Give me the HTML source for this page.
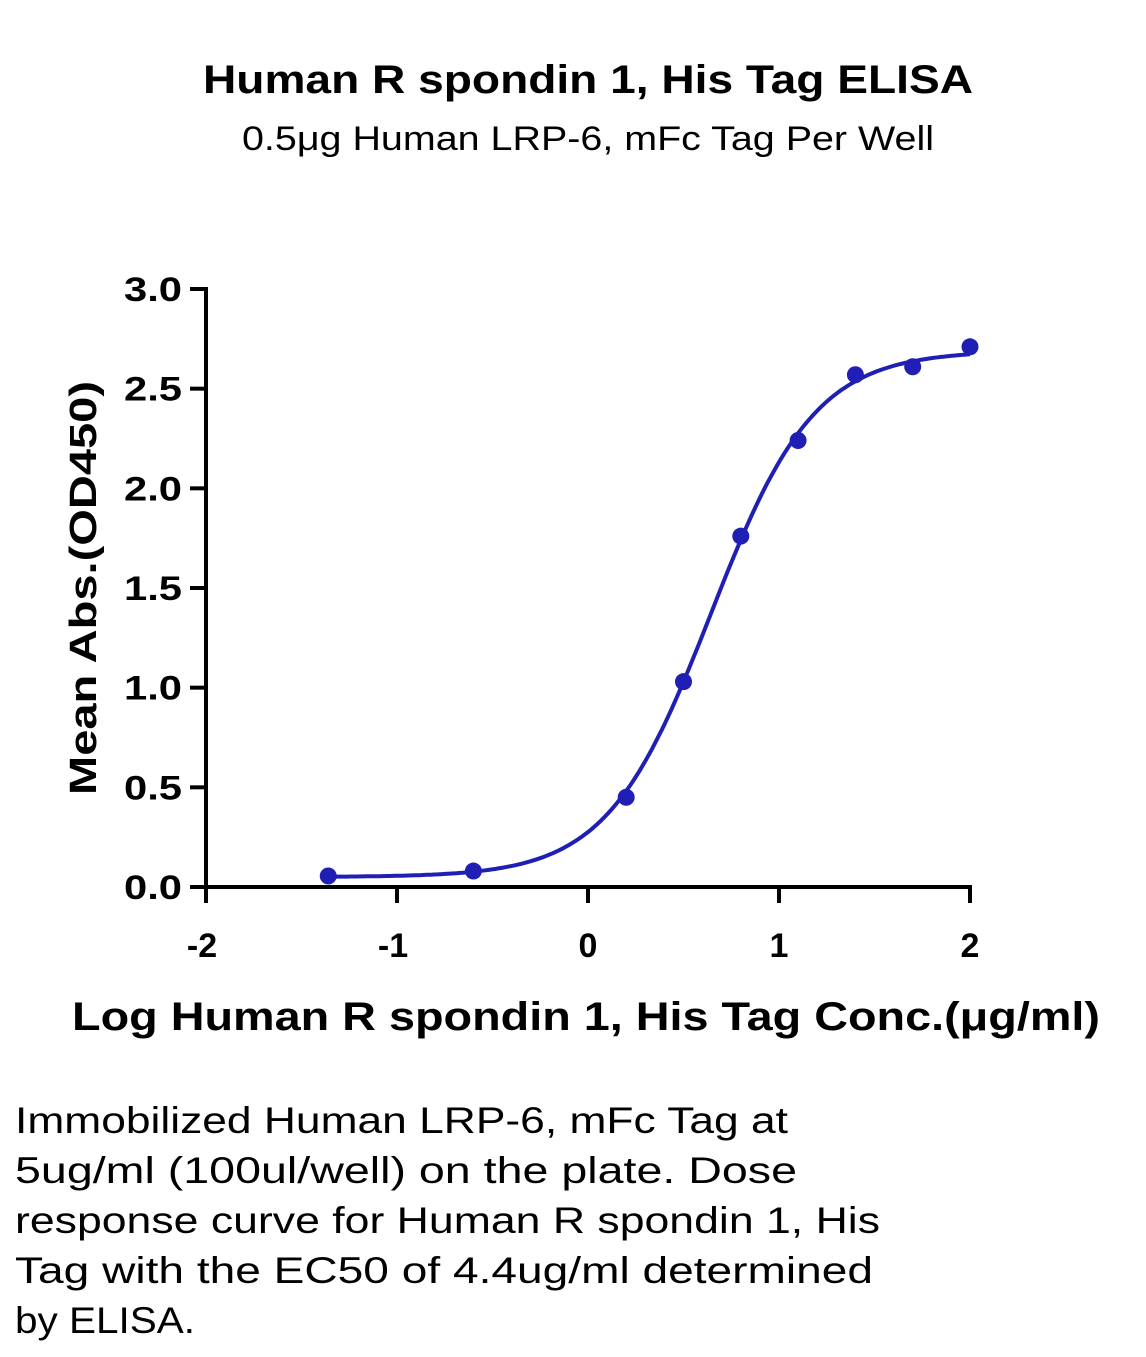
<!DOCTYPE html>
<html><head><meta charset="utf-8"><style>
html,body{margin:0;padding:0;background:#fff;}
svg{display:block;font-family:"Liberation Sans",sans-serif;}
</style></head><body>
<svg width="1146" height="1357" viewBox="0 0 1146 1357" id="chart">
<text x="588" y="93" text-anchor="middle" font-size="40" font-weight="bold" textLength="770" lengthAdjust="spacingAndGlyphs">Human R spondin 1, His Tag ELISA</text>
<text x="588" y="150" text-anchor="middle" font-size="34" textLength="692" lengthAdjust="spacingAndGlyphs">0.5μg Human LRP-6, mFc Tag Per Well</text>
<g id="axes"></g>
<g id="marks"></g>
<text transform="translate(96,588) rotate(-90)" text-anchor="middle" font-size="38" font-weight="bold" textLength="414" lengthAdjust="spacingAndGlyphs">Mean Abs.(OD450)</text>
<text x="586" y="1030" text-anchor="middle" font-size="40" font-weight="bold" textLength="1028" lengthAdjust="spacingAndGlyphs">Log Human R spondin 1, His Tag Conc.(μg/ml)</text>
<g font-size="37">
<text x="15" y="1133" textLength="773" lengthAdjust="spacingAndGlyphs">Immobilized Human LRP-6, mFc Tag at</text>
<text x="15" y="1183" textLength="782" lengthAdjust="spacingAndGlyphs">5ug/ml (100ul/well) on the plate. Dose</text>
<text x="15" y="1233" textLength="865" lengthAdjust="spacingAndGlyphs">response curve for Human R spondin 1, His</text>
<text x="15" y="1283" textLength="858" lengthAdjust="spacingAndGlyphs">Tag with the EC50 of 4.4ug/ml determined</text>
<text x="15" y="1333" textLength="180" lengthAdjust="spacingAndGlyphs">by ELISA.</text>
</g>
</svg>
<script>
const xValues = [-1.36, -0.6, 0.2, 0.5, 0.8, 1.1, 1.4, 1.7, 2.0];
const yValues = [0.055, 0.08, 0.45, 1.03, 1.76, 2.24, 2.57, 2.61, 2.71];
const xTicks = [-2, -1, 0, 1, 2];
const yTicks = [0.0, 0.5, 1.0, 1.5, 2.0, 2.5, 3.0];
const fitBottom = 0.05, fitTop = 2.69, fitLogEC50 = 0.643, fitHill = 1.6;

const NS = "http://www.w3.org/2000/svg";
const X0 = 206, X1 = 970, Y0 = 887, Y1 = 289;
const xs = v => X0 + (v - (-2)) / 4 * (X1 - X0);
const ys = v => Y0 - v / 3 * (Y0 - Y1);
const C = "#1f1fb5";
function mk(tag, attrs, parent) {
  const e = document.createElementNS(NS, tag);
  for (const k in attrs) e.setAttribute(k, attrs[k]);
  parent.appendChild(e); return e;
}
const axes = document.getElementById('axes');
const marks = document.getElementById('marks');
let l = mk('line', {x1: X0, y1: Y1 - 2, x2: X0, y2: Y0 + 2, stroke: '#000', 'stroke-width': 4}, axes);


l = mk('line', {x1: X0 - 2, y1: Y0, x2: X1 + 2, y2: Y0, stroke: '#000', 'stroke-width': 4}, axes);


yTicks.forEach(t => {
  const tk = mk('line', {x1: X0 - 16, y1: ys(t), x2: X0, y2: ys(t), stroke: '#000', 'stroke-width': 4}, axes);
  
  
  const tx = mk('text', {x: 182, y: ys(t) + 12, 'text-anchor': 'end', 'font-size': 34, 'font-weight': 'bold', textLength: 58, lengthAdjust: 'spacingAndGlyphs'}, axes);
  tx.textContent = t.toFixed(1);
  
  
});
xTicks.forEach(t => {
  const tk = mk('line', {x1: xs(t), y1: Y0, x2: xs(t), y2: Y0 + 16, stroke: '#000', 'stroke-width': 4}, axes);
  
  
  const tx = mk('text', {x: xs(t) - (t < 0 ? 4 : 0), y: 957, 'text-anchor': 'middle', 'font-size': 34, 'font-weight': 'bold'}, axes);
  tx.textContent = t;
  
  
});
const fit = x => fitBottom + (fitTop - fitBottom) / (1 + Math.pow(10, (fitLogEC50 - x) * fitHill));
let d = '';
const xmin = xValues[0], xmax = xValues[xValues.length - 1];
for (let i = 0; i <= 200; i++) {
  const x = xmin + (xmax - xmin) * i / 200;
  d += (i ? 'L' : 'M') + xs(x).toFixed(1) + ',' + ys(fit(x)).toFixed(1);
}
const p = mk('path', {d: d, fill: 'none', stroke: C, 'stroke-width': 4}, marks);


xValues.forEach((x, i) => {
  const c = mk('circle', {cx: xs(x), cy: ys(yValues[i]), r: 8.5, fill: C}, marks);
  
  
});
</script>
</body></html>
